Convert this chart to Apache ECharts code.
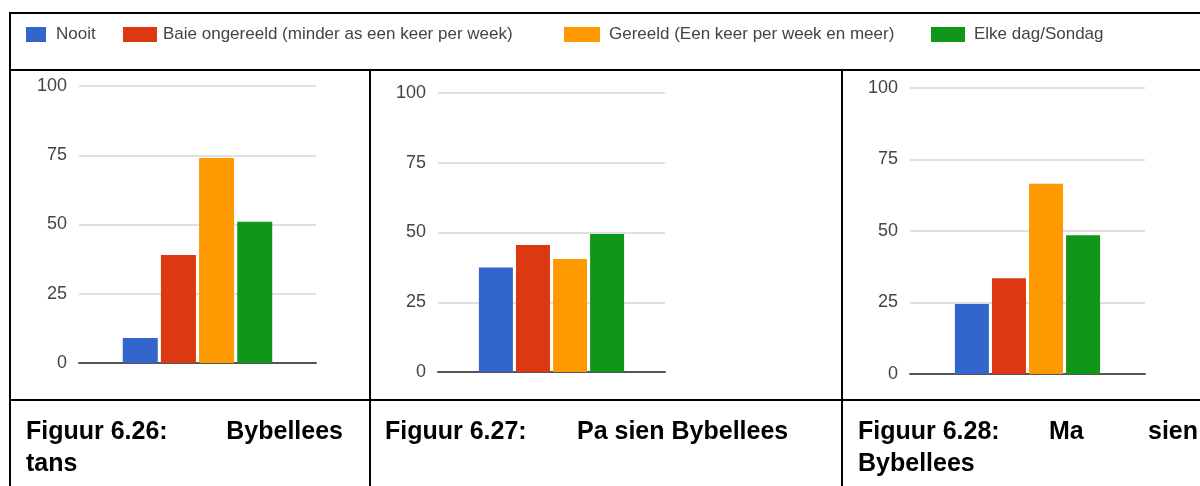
<!DOCTYPE html>
<html>
<head>
<meta charset="utf-8">
<script src="https://cdn.jsdelivr.net/npm/echarts@6/dist/echarts.min.js"></script>
<style>
  html, body { margin: 0; padding: 0; background: #fff; }
  #chart { width: 1200px; height: 486px; }
</style>
</head>
<body>
<div id="chart"></div>
<script>
// kategorieë (legende)
const categories = ['Nooit', 'Baie ongereeld (minder as een keer per week)', 'Gereeld (Een keer per week en meer)', 'Elke dag/Sondag']
const colors = ['#3366cc', '#dc3912', '#ff9900', '#109618']
// waardes per figuur (%)
const bybelleesTans = [9, 39, 74, 51]
const paSienBybellees = [37.5, 45.5, 40.5, 49.5]
const maSienBybellees = [24.5, 33.5, 66.5, 48.5]
const yTicks = [0, 25, 50, 75, 100]
// onderskrifte, woord vir woord (teks is uitgevul in die tabel)
const caption1 = ['Figuur 6.26:', 'Bybellees', 'tans']
const caption2 = ['Figuur 6.27:', 'Pa sien Bybellees']
const caption3 = ['Figuur 6.28:', 'Ma', 'sien', 'Bybellees']

const panels = [bybelleesTans, paSienBybellees, maSienBybellees]
const FONT = '"Liberation Sans", Arial, Helvetica, sans-serif'

const grids = [
  { left: 79, top: 86, width: 237, height: 277 },
  { left: 438, top: 93, width: 227, height: 279 },
  { left: 910, top: 88, width: 235, height: 286 }
]
const barWidths = [35, 34, 34]

// legende: elke item apart sodat die blokkies presies sit
const legendPos = [
  { left: 26, w: 20, pad: 5 },
  { left: 123, w: 34, pad: 1 },
  { left: 564, w: 36, pad: 4 },
  { left: 931, w: 34, pad: 4 }
]
const legends = categories.map((c, i) => ({
  data: [c],
  left: legendPos[i].left,
  top: 26,
  padding: 0,
  icon: 'rect',
  itemWidth: legendPos[i].w,
  itemHeight: 15,
  selectedMode: false,
  textStyle: {
    fontFamily: FONT,
    fontSize: 17,
    color: '#444',
    padding: [0, 0, 0, legendPos[i].pad]
  }
}))

const xAxis = grids.map((g, i) => ({
  type: 'category',
  gridIndex: i,
  data: [''],
  axisTick: { show: false },
  axisLabel: { show: false },
  axisLine: { lineStyle: { color: '#555', width: 2 } }
}))
const yAxis = grids.map((g, i) => ({
  type: 'value',
  gridIndex: i,
  min: yTicks[0],
  max: yTicks[yTicks.length - 1],
  interval: 25,
  axisLine: { show: false },
  axisTick: { show: false },
  axisLabel: { fontFamily: FONT, fontSize: 18, color: '#444', margin: 12 },
  splitLine: { lineStyle: { color: '#e0e0e0', width: 2 } }
}))

const series = []
panels.forEach((vals, p) => {
  categories.forEach((c, i) => {
    series.push({
      name: c,
      type: 'bar',
      xAxisIndex: p,
      yAxisIndex: p,
      barWidth: barWidths[p],
      barGap: '9%',
      itemStyle: { color: colors[i] },
      data: [vals[i]],
      silent: true
    })
  })
})

// tabelrame
const lines = [
  [10, 13, 1200, 13],
  [10, 70, 1200, 70],
  [10, 400, 1200, 400],
  [10, 12, 10, 486],
  [370, 70, 370, 486],
  [842, 70, 842, 486]
].map(l => ({
  type: 'line',
  shape: { x1: l[0], y1: l[1], x2: l[2], y2: l[3] },
  style: { stroke: '#000', lineWidth: 2 },
  z: 10
}))

const capFont = 'bold 25px ' + FONT
function cap(text, x, y, align) {
  return {
    type: 'text',
    x: x, y: y,
    style: { text: text, font: capFont, fill: '#000', textAlign: align || 'left', textVerticalAlign: 'middle' }
  }
}
const captions = [
  cap(caption1[0], 26, 432),
  cap(caption1[1], 343, 432, 'right'),
  cap(caption1[2], 26, 464),
  cap(caption2[0], 385, 432),
  cap(caption2[1], 577, 432),
  cap(caption3[0], 858, 432),
  cap(caption3[1], 1049, 432),
  cap(caption3[2], 1198, 432, 'right'),
  cap(caption3[3], 858, 464)
]

const chart = echarts.init(document.getElementById('chart'))
chart.setOption({
  animation: false,
  backgroundColor: '#fff',
  legend: legends,
  grid: grids,
  xAxis: xAxis,
  yAxis: yAxis,
  series: series,
  graphic: lines.concat(captions)
})
</script>
</body>
</html>
